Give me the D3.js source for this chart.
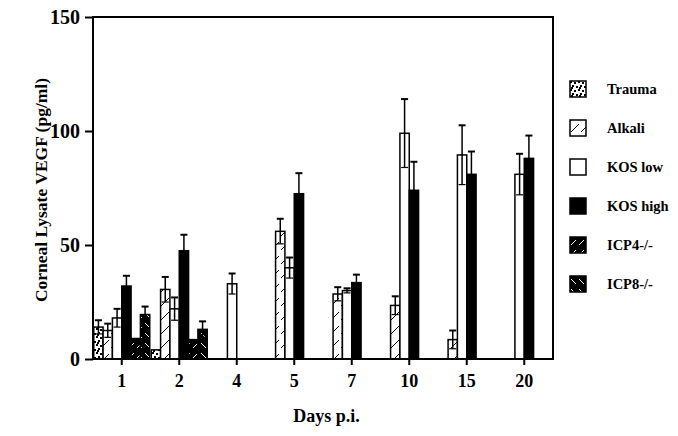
<!DOCTYPE html>
<html>
<head>
<meta charset="utf-8">
<script src="https://cdn.jsdelivr.net/npm/d3@7"></script>
<style>
  body { margin: 0; background: #fff; }
  svg { display: block; font-family: "Liberation Serif", "Times New Roman", serif; font-weight: bold; }
</style>
</head>
<body>
<div id="chart"></div>
<script>
// days post infection (categories)
const days = ["1", "2", "4", "5", "7", "10", "15", "20"];
const seriesNames = ["Trauma", "Alkali", "KOS low", "KOS high", "ICP4-/-", "ICP8-/-"];

// VEGF values (pg/ml), null = not measured
const trauma  = [14, 4, null, null, null, null, null, null];
const alkali  = [12.5, 30.5, null, 56, 28.5, 23.5, 8.5, null];
const kosLow  = [18, 22, 33, 40, 30, 99, 89.5, 81];
const kosHigh = [32, 47.5, null, 72.5, 33.5, 74, 81, 88];
const icp4    = [9, 8.5, null, null, null, null, null, null];
const icp8    = [19.5, 13, null, null, null, null, null, null];

// error bars (SEM)
const traumaErr  = [3, 0, 0, 0, 0, 0, 0, 0];
const alkaliErr  = [3, 5.5, 0, 5.5, 3, 4, 4, 0];
const kosLowErr  = [4, 5, 4.5, 4.5, 1, 15, 13, 9];
const kosHighErr = [4.5, 7, 0, 9, 3.5, 12.5, 10, 10];
const icp4Err    = [0, 0, 0, 0, 0, 0, 0, 0];
const icp8Err    = [3.5, 3.5, 0, 0, 0, 0, 0, 0];

const yTicks = [0, 50, 100, 150];

const allValues = [trauma, alkali, kosLow, kosHigh, icp4, icp8];
const allErrors = [traumaErr, alkaliErr, kosLowErr, kosHighErr, icp4Err, icp8Err];

const width = 678, height = 436;
const margin = { top: 17, right: 125, bottom: 77, left: 93 };

const svg = d3.select("#chart").append("svg")
    .attr("width", width)
    .attr("height", height);

// fill patterns
const defs = svg.append("defs");

const pTrauma = defs.append("pattern").attr("id", "p-trauma")
    .attr("patternUnits", "userSpaceOnUse").attr("width", 8).attr("height", 8);
pTrauma.append("rect").attr("width", 8).attr("height", 8).attr("fill", "#fff");
[[0, 0], [4, 1], [2, 4], [6, 5], [1, 6]].forEach(([x, y]) => {
    pTrauma.append("rect").attr("x", x).attr("y", y).attr("width", 2).attr("height", 2).attr("fill", "#000");
});

const pAlkali = defs.append("pattern").attr("id", "p-alkali")
    .attr("patternUnits", "userSpaceOnUse").attr("width", 10).attr("height", 14);
pAlkali.append("rect").attr("width", 10).attr("height", 14).attr("fill", "#fff");
pAlkali.append("line").attr("x1", 1).attr("y1", 12).attr("x2", 9).attr("y2", 4)
    .attr("stroke", "#000").attr("stroke-width", 1);

const pIcp4 = defs.append("pattern").attr("id", "p-icp4")
    .attr("patternUnits", "userSpaceOnUse").attr("width", 8).attr("height", 10);
pIcp4.append("rect").attr("width", 8).attr("height", 10).attr("fill", "#000");
pIcp4.append("line").attr("x1", 1).attr("y1", 8).attr("x2", 6).attr("y2", 3)
    .attr("stroke", "#fff").attr("stroke-width", 1);

const pIcp8 = defs.append("pattern").attr("id", "p-icp8")
    .attr("patternUnits", "userSpaceOnUse").attr("width", 8).attr("height", 10);
pIcp8.append("rect").attr("width", 8).attr("height", 10).attr("fill", "#000");
pIcp8.append("line").attr("x1", 1).attr("y1", 3).attr("x2", 6).attr("y2", 8)
    .attr("stroke", "#fff").attr("stroke-width", 1);

const fills = ["url(#p-trauma)", "url(#p-alkali)", "#fff", "#000", "url(#p-icp4)", "url(#p-icp8)"];

// scales
const x = d3.scaleBand()
    .domain(days)
    .range([margin.left, width - margin.right])
    .padding(0);

const xSub = d3.scaleBand()
    .domain(seriesNames)
    .range([0.75, x.bandwidth() - 0.75])
    .padding(0);

const y = d3.scaleLinear()
    .domain([0, 150])
    .range([height - margin.bottom, margin.top]);

// flatten into bar records
const bars = [];
days.forEach((d, i) => {
    seriesNames.forEach((s, j) => {
        const v = allValues[j][i];
        if (v != null) bars.push({ day: d, series: s, idx: j, value: v, err: allErrors[j][i] });
    });
});

// bars
svg.append("g")
    .selectAll("rect")
    .data(bars)
    .join("rect")
    .attr("x", d => x(d.day) + xSub(d.series))
    .attr("y", d => y(d.value))
    .attr("width", xSub.bandwidth())
    .attr("height", d => y(0) - y(d.value))
    .attr("fill", d => fills[d.idx])
    .attr("stroke", "#000")
    .attr("stroke-width", 1.5);

// error bars
const errG = svg.append("g").attr("stroke", "#000");
const withErr = bars.filter(d => d.err > 0);
const cx = d => x(d.day) + xSub(d.series) + xSub.bandwidth() / 2;

errG.selectAll(".stem")
    .data(withErr)
    .join("line")
    .attr("x1", cx).attr("x2", cx)
    .attr("y1", d => y(d.value - d.err))
    .attr("y2", d => y(d.value + d.err))
    .attr("stroke-width", 1.5);

errG.selectAll(".cap")
    .data(withErr)
    .join("line")
    .attr("x1", d => cx(d) - 3.5).attr("x2", d => cx(d) + 3.5)
    .attr("y1", d => y(d.value + d.err))
    .attr("y2", d => y(d.value + d.err))
    .attr("stroke-width", 2);

errG.selectAll(".lowcap")
    .data(withErr)
    .join("line")
    .attr("x1", d => cx(d) - 3.5).attr("x2", d => cx(d) + 3.5)
    .attr("y1", d => y(d.value - d.err))
    .attr("y2", d => y(d.value - d.err))
    .attr("stroke-width", 1.2);

// frame
svg.append("rect")
    .attr("x", margin.left)
    .attr("y", margin.top)
    .attr("width", width - margin.left - margin.right)
    .attr("height", height - margin.top - margin.bottom)
    .attr("fill", "none")
    .attr("stroke", "#000")
    .attr("stroke-width", 2);

// y axis
const yAxis = svg.append("g")
    .attr("transform", `translate(${margin.left},0)`)
    .call(d3.axisLeft(y).tickValues(yTicks).tickSize(8).tickPadding(5));
yAxis.select(".domain").remove();
yAxis.selectAll("line").attr("stroke-width", 2);
yAxis.selectAll("text")
    .attr("font-family", "Liberation Serif, Times New Roman, serif")
    .attr("font-weight", "bold")
    .attr("font-size", 20)
    .attr("fill", "#000");

// x axis
const xAxis = svg.append("g")
    .attr("transform", `translate(0,${height - margin.bottom})`)
    .call(d3.axisBottom(x).tickSize(6).tickPadding(9));
xAxis.select(".domain").remove();
xAxis.selectAll("line").attr("stroke-width", 2);
xAxis.selectAll("text")
    .attr("font-family", "Liberation Serif, Times New Roman, serif")
    .attr("font-weight", "bold")
    .attr("font-size", 18)
    .attr("fill", "#000");

// axis titles
svg.append("text")
    .attr("transform", "rotate(-90)")
    .attr("x", -190)
    .attr("y", 47)
    .attr("text-anchor", "middle")
    .attr("font-size", 17.5)
    .text("Corneal Lysate VEGF (pg/ml)");

svg.append("text")
    .attr("x", 326.5)
    .attr("y", 422)
    .attr("text-anchor", "middle")
    .attr("font-size", 18)
    .text("Days p.i.");

// legend
const legend = svg.append("g")
    .selectAll("g")
    .data(seriesNames)
    .join("g")
    .attr("transform", (d, i) => `translate(570,${81 + i * 39})`);

legend.append("rect")
    .attr("width", 16)
    .attr("height", 16)
    .attr("fill", (d, i) => fills[i])
    .attr("stroke", "#000")
    .attr("stroke-width", 1.5);

legend.append("text")
    .attr("x", 37)
    .attr("y", 13)
    .attr("font-size", 14.5)
    .text(d => d);
</script>
</body>
</html>
